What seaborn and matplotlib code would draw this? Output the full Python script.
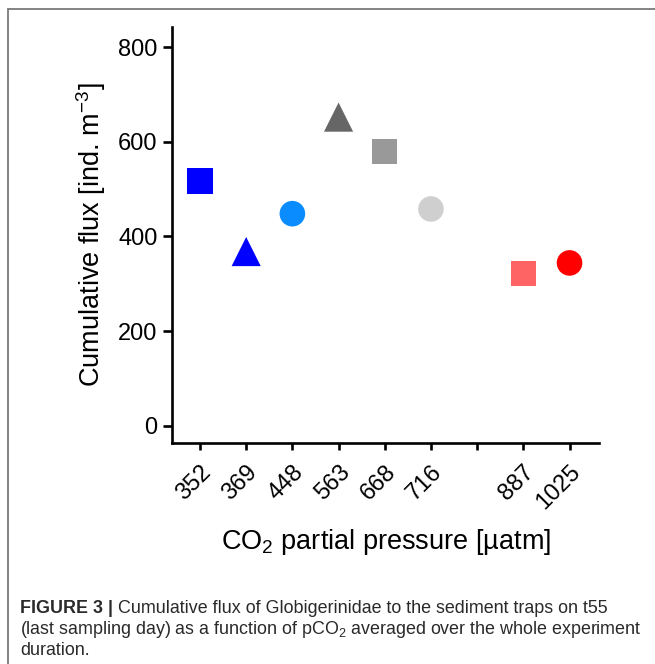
import pandas as pd
import numpy as np
import matplotlib
matplotlib.use("Agg")
import matplotlib.pyplot as plt
import matplotlib.patches as mpatches
import seaborn as sns

# ----------------------------
# Data
# ----------------------------
pco2_labels = ["352", "369", "448", "563", "668", "716", "", "887", "1025"]
mesocosm_pco2 = ["352", "369", "448", "563", "668", "716", "887", "1025"]
cumulative_flux = [517, 368, 448, 652, 580, 458, 321, 344]
marker_shapes = ["s", "^", "o", "^", "s", "o", "s", "o"]
marker_colors = ["#0000ff", "#0000ff", "#0a8cff", "#666666",
                 "#999999", "#cfcfcf", "#ff6464", "#ff0000"]

# x position of every label on the categorical axis (gap tick kept empty)
tick_pos = {lab: i for i, lab in enumerate(pco2_labels) if lab}

df = pd.DataFrame({
    "pco2": mesocosm_pco2,
    "x": [tick_pos[p] for p in mesocosm_pco2],
    "flux": cumulative_flux,
})

sns.set_style("ticks")
plt.rcParams["font.family"] = ["Liberation Sans", "DejaVu Sans"]
plt.rcParams["mathtext.fontset"] = "custom"
plt.rcParams["mathtext.rm"] = "Liberation Sans"
plt.rcParams["mathtext.it"] = "Liberation Sans:italic"
plt.rcParams["mathtext.bf"] = "Liberation Sans:bold"
plt.rcParams["text.color"] = "black"
plt.rcParams["axes.labelcolor"] = "black"
plt.rcParams["xtick.color"] = "black"
plt.rcParams["ytick.color"] = "black"

fig = plt.figure(figsize=(6.55, 6.64), dpi=100)
ax = fig.add_axes([0.263, 0.3324, 0.652, 0.6274])

size_map = {"s": 330, "^": 440, "o": 340}
sns.scatterplot(
    data=df, x="x", y="flux", hue="pco2", style="pco2", size="pco2",
    palette=dict(zip(mesocosm_pco2, marker_colors)),
    markers=dict(zip(mesocosm_pco2, marker_shapes)),
    sizes={p: size_map[m] for p, m in zip(mesocosm_pco2, marker_shapes)},
    linewidth=0, legend=False, ax=ax, zorder=3,
)

ax.set_xlim(-0.6, 8.645)
ax.set_ylim(-37, 843)
ax.set_xticks(range(len(pco2_labels)))
ax.set_xticklabels(pco2_labels, rotation=45, ha="right", rotation_mode="anchor")
ax.set_yticks([0, 200, 400, 600, 800])
ax.tick_params(axis="both", labelsize=17, width=1.9, pad=4)
ax.tick_params(axis="x", length=5, pad=8)
ax.tick_params(axis="y", length=6.5)
sns.despine(ax=ax)
for side in ["left", "bottom"]:
    ax.spines[side].set_linewidth(1.9)
    ax.spines[side].set_color("black")

ax.set_xlabel("CO$_2$ partial pressure [µatm]", fontsize=19.5, labelpad=9)
ax.set_ylabel("Cumulative flux [ind. m$^{-3}$]", fontsize=19.5, labelpad=7)

# frame lines of the figure panel (top and left)
fig.add_artist(mpatches.Rectangle((7.5 / 655, -0.1), 1.2, 1.1 - 9 / 664,
                                  transform=fig.transFigure, fill=False,
                                  edgecolor="#7a7a7a", linewidth=1.3))

# caption
cap_size = 12.9
cap_color = "#2a2a2a"
cap = fig.text(20 / 655, 1 - 613 / 664, "FIGURE 3 |", fontsize=cap_size,
               fontweight="bold", va="baseline", color=cap_color)
ax.annotate(" Cumulative flux of Globigerinidae to the sediment traps on t55",
            xy=(1, 0), xycoords=cap, va="bottom", fontsize=cap_size,
            color=cap_color, annotation_clip=False)
fig.text(20 / 655, 1 - 634 / 664,
         "(last sampling day) as a function of pCO$_2$ averaged over the whole experiment",
         fontsize=cap_size, va="baseline", color=cap_color)
fig.text(20 / 655, 1 - 655 / 664, "duration.", fontsize=cap_size, va="baseline",
         color=cap_color)

fig.savefig("out.png", dpi=100)
